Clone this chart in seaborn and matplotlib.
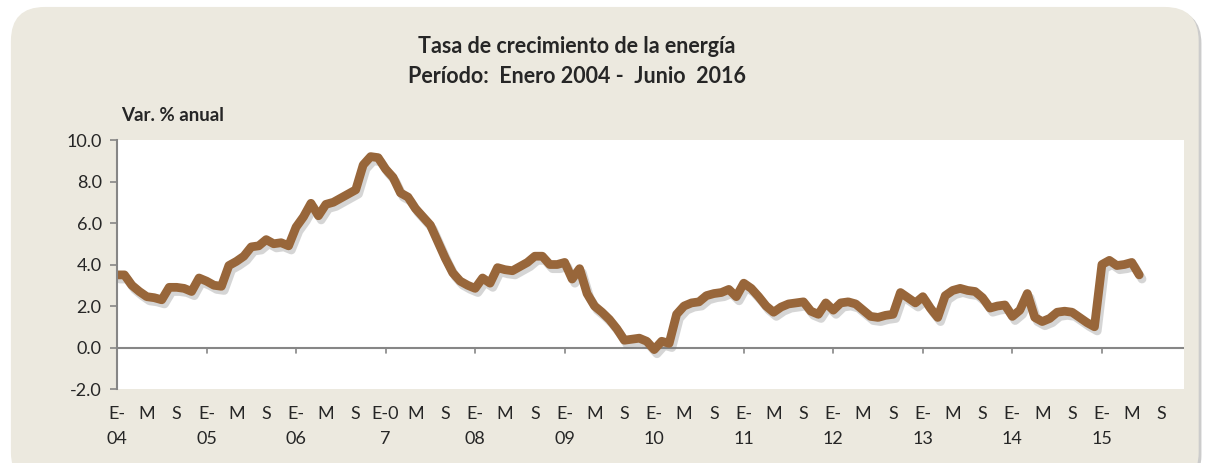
import numpy as np
import pandas as pd
import seaborn as sns
import matplotlib.pyplot as plt
import matplotlib.patheffects as pe
from matplotlib.patches import FancyBboxPatch

sns.set_style('white')
plt.rcParams['font.family'] = ['Lato', 'DejaVu Sans']

# monthly growth rate, Jan 2004 .. Jun 2015 (var. % anual)
energia = [3.5, 3.5, 3.0, 2.7, 2.45, 2.4, 2.3, 2.9, 2.9, 2.85, 2.7, 3.35,
           3.2, 3.0, 2.95, 3.95, 4.15, 4.4, 4.85, 4.9, 5.2, 5.0, 5.05, 4.9,
           5.8, 6.3, 6.95, 6.35, 6.9, 7.0, 7.2, 7.4, 7.6, 8.8, 9.2, 9.15,
           8.6, 8.2, 7.45, 7.25, 6.7, 6.3, 5.9, 5.1, 4.3, 3.6, 3.2, 3.0,
           2.85, 3.35, 3.1, 3.85, 3.75, 3.7, 3.9, 4.1, 4.4, 4.4, 4.0, 4.0,
           4.1, 3.3, 3.8, 2.6, 2.0, 1.7, 1.35, 0.9, 0.35, 0.4, 0.45, 0.3,
           -0.1, 0.3, 0.2, 1.6, 2.0, 2.15, 2.2, 2.5, 2.6, 2.65, 2.8, 2.45,
           3.1, 2.85, 2.45, 2.0, 1.7, 1.95, 2.1, 2.15, 2.2, 1.75, 1.6, 2.15,
           1.8, 2.15, 2.2, 2.1, 1.8, 1.5, 1.45, 1.55, 1.6, 2.65, 2.4, 2.15,
           2.45, 1.9, 1.45, 2.5, 2.75, 2.85, 2.75, 2.7, 2.4, 1.9, 2.0, 2.05,
           1.5, 1.8, 2.6, 1.45, 1.25, 1.4, 1.7, 1.75, 1.7, 1.45, 1.2, 1.0,
           4.0, 4.2, 3.95, 4.0, 4.1, 3.5]

anios = ['04', '05', '06', '07', '08', '09', '10', '11', '12', '13', '14', '15']
etiquetas = []
for a in anios:
    if a == '07':
        etiquetas += ['E-0\n7', 'M', 'S']
    else:
        etiquetas += ['E-\n' + a, 'M', 'S']

df = pd.DataFrame({'mes': np.arange(len(energia)), 'valor': energia})

fig = plt.figure(figsize=(12.12, 4.63), dpi=100)
fig.patch.set_facecolor('white')
# rounded beige panel
caja = FancyBboxPatch((0.009, -0.05), 0.98, 1.035, boxstyle='round,pad=0,rounding_size=0.028',
                      transform=fig.transFigure, facecolor='#ECE9DF', edgecolor='none',
                      mutation_aspect=12.12 / 4.63, zorder=-10)
caja.set_path_effects([pe.SimplePatchShadow(offset=(2, -2), shadow_rgbFace='#9A9A9A', alpha=0.5), pe.Normal()])
fig.patches.append(caja)

ax = fig.add_axes([0.0965, 0.1598, 0.8804, 0.5378])
ax.set_facecolor('white')

sns.lineplot(data=df, x='mes', y='valor', ax=ax, color='#98663A', linewidth=6.3,
             solid_joinstyle='round', solid_capstyle='round',
             path_effects=[pe.SimpleLineShadow(offset=(2, -3), shadow_color='#777777', alpha=0.3),
                           pe.Normal()])

ax.set_xlim(0, 143)
ax.set_ylim(-2, 10)
ax.set_yticks(np.arange(-2, 10.1, 2))
ax.set_yticklabels([f'{v:.1f}' for v in np.arange(-2, 10.1, 2)], fontsize=13)
ax.set_xlabel('')
ax.set_ylabel('')

for s in ['top', 'right', 'bottom']:
    ax.spines[s].set_visible(False)
ax.spines['left'].set_color('#868686')
ax.spines['left'].set_linewidth(1.5)
ax.axhline(0, color='#868686', linewidth=1.5, zorder=1)
ax.tick_params(axis='y', direction='out', length=5, width=1.2, color='#868686', left=True, pad=6)

# year ticks on the zero line
for m in range(0, 143, 12):
    ax.plot([m, m], [0, -0.25], color='#868686', linewidth=1.2, clip_on=False, zorder=1)

ax.set_xticks([])
for i, lab in enumerate(etiquetas):
    ax.text(i * 4, -2.8, lab, ha='center', va='top', fontsize=13, linespacing=1.75,
            transform=ax.transData)

fig.text(0.476, 0.9, 'Tasa de crecimiento de la energía', ha='center', va='center',
         fontsize=15.5, fontweight='bold')
fig.text(0.476, 0.834, 'Período:  Enero 2004 -  Junio  2016', ha='center', va='center',
         fontsize=15.5, fontweight='bold')
fig.text(0.1, 0.75, 'Var. % anual', ha='left', va='center', fontsize=13.5, fontweight='bold')

fig.savefig('out.png', dpi=100, facecolor=fig.get_facecolor())
